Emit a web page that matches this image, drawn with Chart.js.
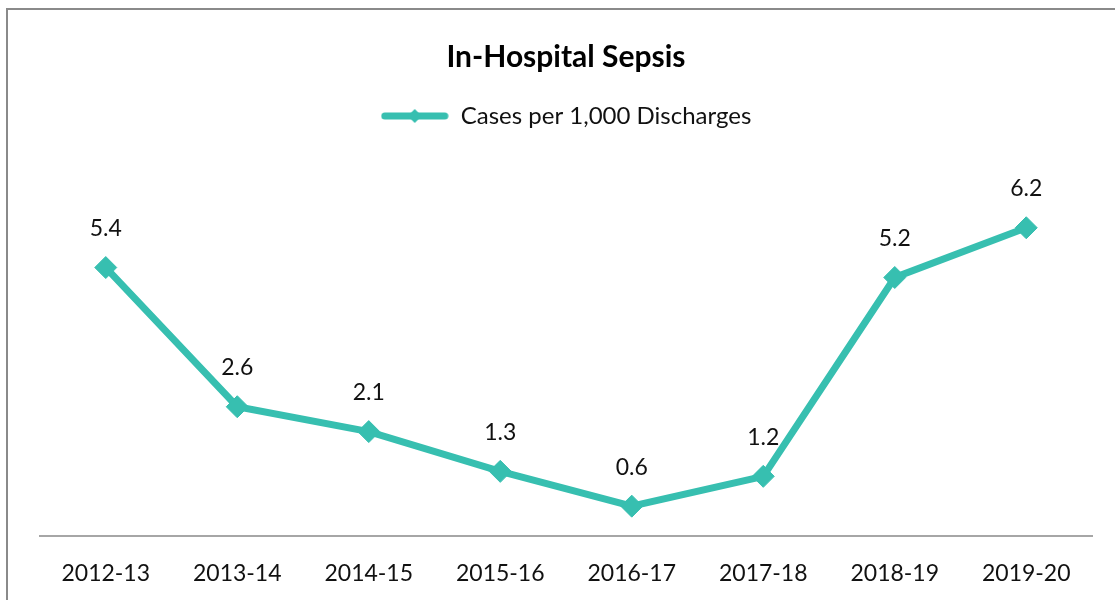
<!DOCTYPE html>
<html>
<head>
<meta charset="utf-8">
<script src="https://cdn.jsdelivr.net/npm/chart.js@4.4.1/dist/chart.umd.min.js"></script>
<style>
html,body{margin:0;padding:0;background:#fff;overflow:hidden;}
#wrap{position:absolute;left:0;top:0;width:1115px;height:600px;}
#frame{position:absolute;left:6px;top:8px;width:1200px;height:700px;border:2px solid #8a8a8a;box-sizing:border-box;pointer-events:none;}
canvas{position:absolute;left:0;top:0;}
</style>
</head>
<body>
<div id="wrap">
<canvas id="c" width="1115" height="600"></canvas>
<div id="frame"></div>
</div>
<script>
const categories = ['2012-13','2013-14','2014-15','2015-16','2016-17','2017-18','2018-19','2019-20'];
const casesPer1000 = [5.4, 2.6, 2.1, 1.3, 0.6, 1.2, 5.2, 6.2];
const seriesName = 'Cases per 1,000 Discharges';
const chartTitle = 'In-Hospital Sepsis';

const TEAL = '#37bfb0';
const FONT = 'Lato, "Open Sans", "DejaVu Sans", sans-serif';

// legend marker: line with diamond
const mk = document.createElement('canvas');
mk.width = 68; mk.height = 16;
(function(){
  const g = mk.getContext('2d');
  g.strokeStyle = TEAL; g.lineWidth = 7; g.lineCap = 'round';
  g.beginPath(); g.moveTo(4, 8); g.lineTo(64, 8); g.stroke();
  g.fillStyle = TEAL;
  g.beginPath(); g.moveTo(34, 1); g.lineTo(41, 8); g.lineTo(34, 15); g.lineTo(27, 8); g.closePath(); g.fill();
})();

const legendGap = {
  id: 'legendGap',
  beforeLayout(chart) {
    const lg = chart.legend;
    if (lg && !lg._gapWrapped) {
      const f = lg.fit.bind(lg);
      lg.fit = function() { f(); this.height += 50; };
      lg._gapWrapped = true;
    }
  }
};

const dataLabels = {
  id: 'dataLabels',
  afterDatasetsDraw(chart) {
    const ctx = chart.ctx;
    const meta = chart.getDatasetMeta(0);
    ctx.save();
    ctx.font = '23px ' + FONT;
    ctx.fillStyle = '#111';
    ctx.textAlign = 'center';
    ctx.textBaseline = 'middle';
    meta.data.forEach((pt, i) => {
      ctx.fillText(casesPer1000[i].toFixed(1), pt.x, pt.y - 39);
    });
    ctx.restore();
  }
};

new Chart(document.getElementById('c'), {
  type: 'line',
  data: {
    labels: categories,
    datasets: [{
      label: seriesName,
      data: casesPer1000,
      borderColor: TEAL,
      backgroundColor: TEAL,
      borderWidth: 7,
      pointStyle: 'rectRot',
      pointRadius: 11,
      pointBorderWidth: 1,
      pointBackgroundColor: TEAL,
      pointBorderColor: TEAL,
      tension: 0
    }]
  },
  options: {
    responsive: false,
    animation: false,
    events: [],
    layout: { padding: { left: 40, right: 23, top: 0, bottom: 0 } },
    plugins: {
      title: {
        display: true,
        text: chartTitle,
        color: '#000',
        font: { family: FONT, size: 30, weight: 'bold', lineHeight: 1.2 },
        padding: { top: 39, bottom: 19 }
      },
      legend: {
        display: true,
        labels: {
          usePointStyle: true,
          pointStyle: mk,
          pointStyleWidth: 68,
          color: '#111',
          font: { family: FONT, size: 24 },
          boxHeight: 16,
          padding: 10
        }
      },
      tooltip: { enabled: false }
    },
    scales: {
      x: {
        offset: true,
        grid: { display: false, drawTicks: false, offset: true },
        border: { display: true, color: '#a6a6a6', width: 2 },
        ticks: { color: '#111', font: { family: FONT, size: 23 }, padding: 24, maxRotation: 0 },
        afterFit(scale) { scale.height = 64; }
      },
      y: {
        display: false,
        min: 0,
        max: 7
      }
    }
  },
  plugins: [legendGap, dataLabels]
});
</script>
</body>
</html>
